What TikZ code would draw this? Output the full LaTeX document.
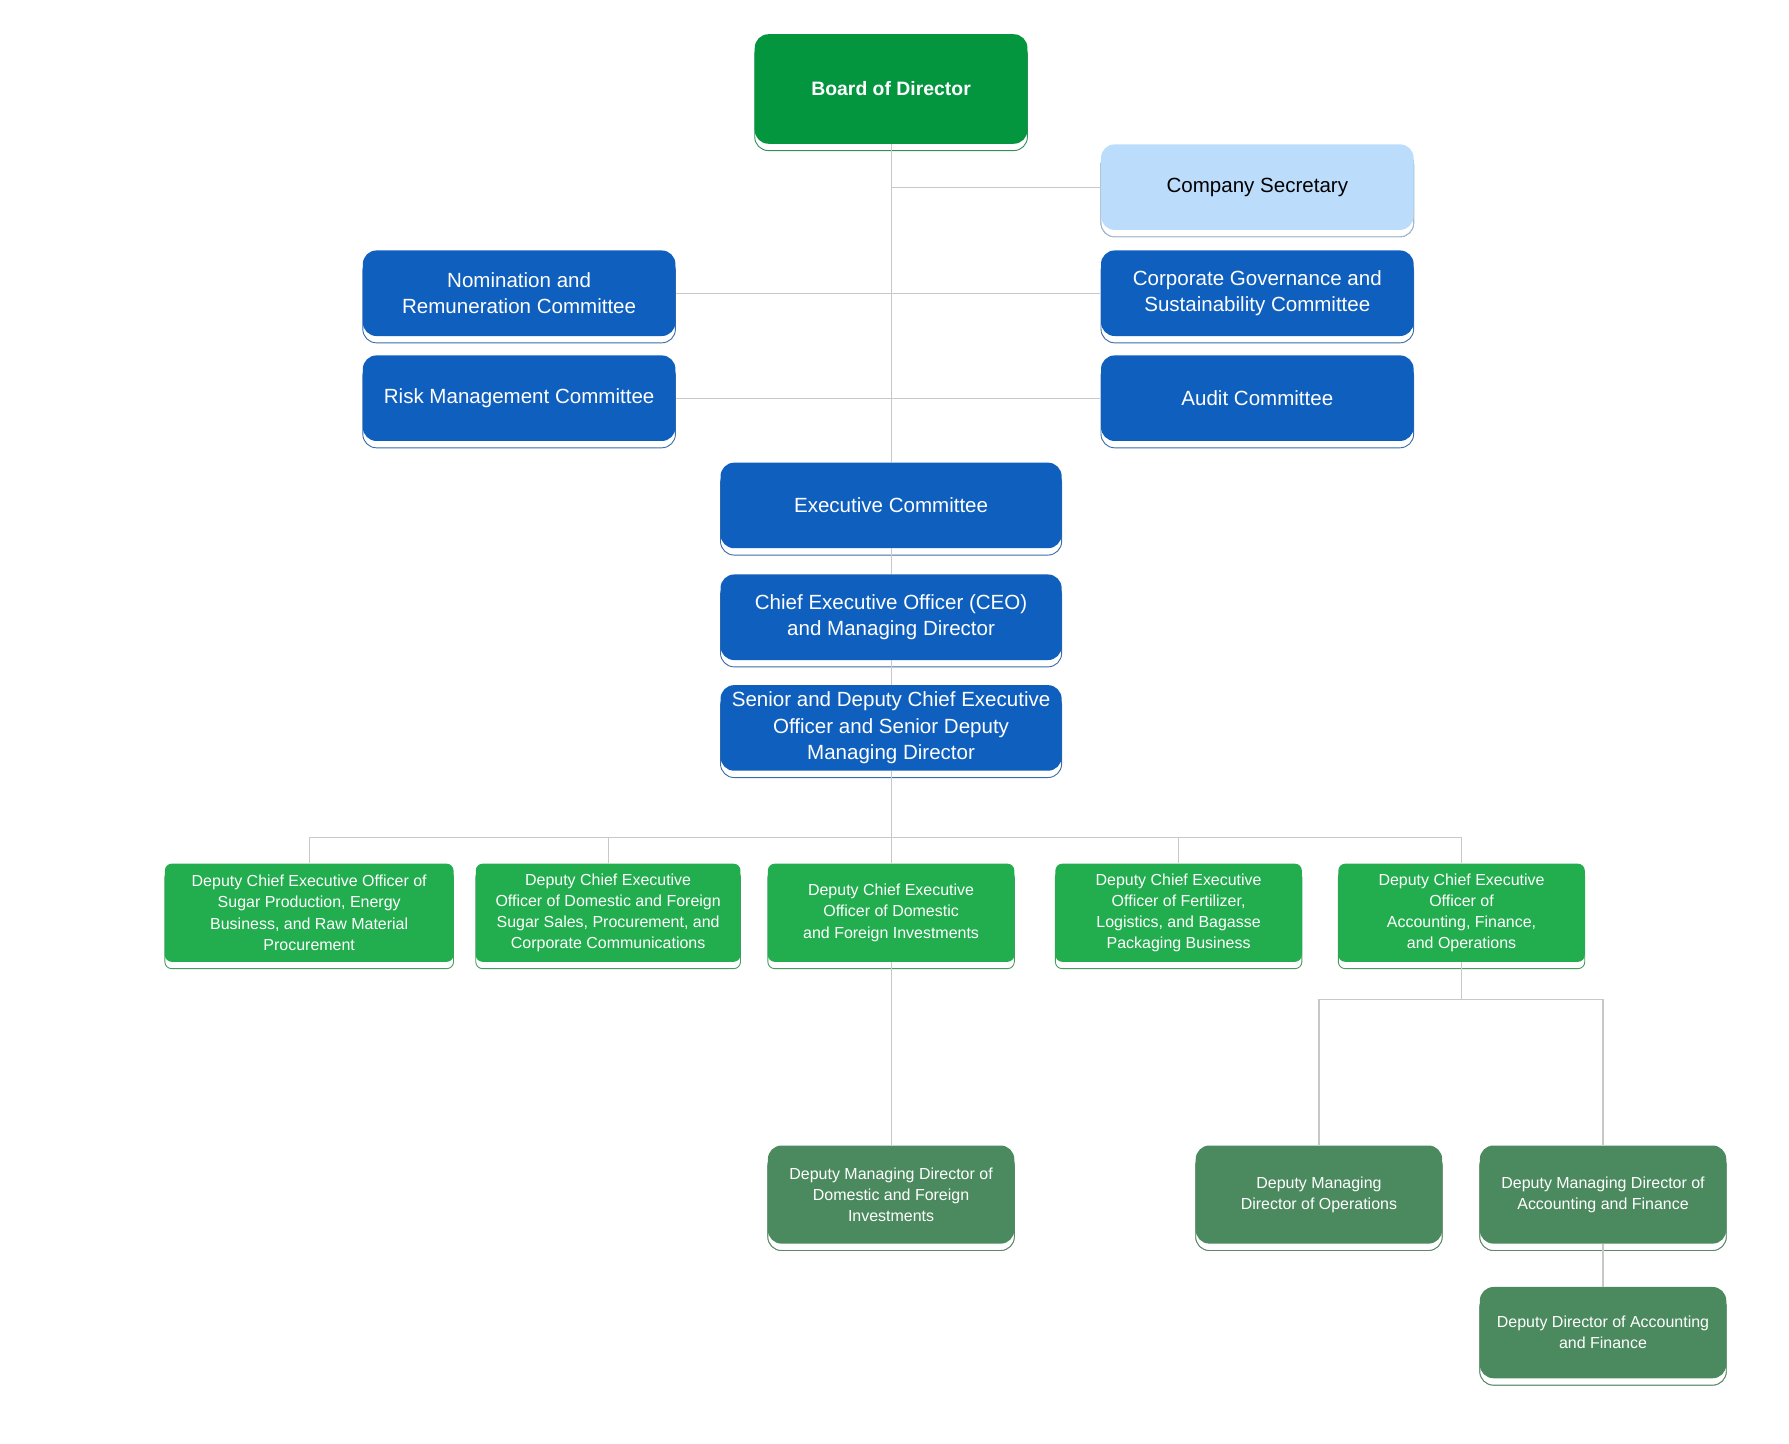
\documentclass[tikz,border=0pt]{standalone}
\usepackage{fontspec}
\setmainfont{Liberation Sans}
\definecolor{boardgreen}{HTML}{03963F}
\definecolor{comblue}{HTML}{0F5FBE}
\definecolor{secblue}{HTML}{BBDDFB}
\definecolor{depgreen}{HTML}{22AE4E}
\definecolor{mdgreen}{HTML}{4B8A5E}
\definecolor{linkgray}{HTML}{C8C8C8}
\tikzset{
  box/.style={rounded corners=12pt, align=center, inner sep=0pt,
    preaction={draw=#1!60!gray, fill=white, line width=0.8pt, transform canvas={yshift=-6pt}}},
  board/.style={box=boardgreen, fill=boardgreen, text=white, font=\fontsize{17}{21}\selectfont\bfseries,
    minimum width=239pt, minimum height=96pt},
  committee/.style={box=comblue, fill=comblue, text=white, font=\fontsize{18}{23}\selectfont,
    minimum width=274pt, minimum height=75pt},
  secretary/.style={committee, box=secblue, fill=secblue, text=black},
  exec/.style={committee, minimum width=299pt},
  deputy/.style={box=depgreen, fill=depgreen, text=white, font=\fontsize{14}{18.5}\selectfont,
    minimum width=216pt, minimum height=86pt, rounded corners=6pt},
  mdir/.style={deputy, box=mdgreen, fill=mdgreen},
  link/.style={draw=linkgray, line width=1pt}
}
\begin{document}
\begin{tikzpicture}[x=1pt,y=-1pt]
  \useasboundingbox (0,0) rectangle (1568,1265);

  % lines first
  \coordinate (top) at (781,126);
  \coordinate (bus) at (781,734);
  \coordinate (busL) at (271,734);
  \coordinate (busR) at (1281,734);
  \coordinate (sec) at (781,164);
  \coordinate (gov) at (781,255);
  \coordinate (aud) at (781,349);
  \coordinate (fin) at (1281,876);
  \coordinate (finL) at (1156,876);
  \coordinate (finR) at (1405,876);

  \node[board] (B) at (781,78) {Board of Director};
  \node[secretary] (CS) at (1102,164) {Company Secretary};
  \node[committee] (NR) at (455,257) {Nomination and\\Remuneration Committee};
  \node[committee] (CG) at (1102,257) {Corporate Governance and\\Sustainability Committee};
  \node[committee] (RM) at (455,349) {Risk Management Committee};
  \node[committee] (AC) at (1102,349) {Audit Committee};
  \node[exec] (EC) at (781,443) {Executive Committee};
  \node[exec] (CEO) at (781,541) {Chief Executive Officer (CEO)\\and Managing Director};
  \node[exec] (SD) at (781,638) {Senior and Deputy Chief Executive\\Officer and Senior Deputy\\Managing Director};

  \node[deputy, minimum width=253pt] (D1) at (271,800) {Deputy Chief Executive Officer of\\Sugar Production, Energy\\Business, and Raw Material\\Procurement};
  \node[deputy, minimum width=232pt] (D2) at (533,800) {Deputy Chief Executive\\Officer of Domestic and Foreign\\Sugar Sales, Procurement, and\\Corporate Communications};
  \node[deputy] (D3) at (781,800) {Deputy Chief Executive\\Officer of Domestic\\and Foreign Investments};
  \node[deputy] (D4) at (1033,800) {Deputy Chief Executive\\Officer of Fertilizer,\\Logistics, and Bagasse\\Packaging Business};
  \node[deputy] (D5) at (1281,800) {Deputy Chief Executive\\Officer of\\Accounting, Finance,\\and Operations};

  \node[mdir] (M1) at (781,1047) {Deputy Managing Director of\\Domestic and Foreign\\Investments};
  \node[mdir] (M2) at (1156,1047) {Deputy Managing\\Director of Operations};
  \node[mdir] (M3) at (1405,1047) {Deputy Managing Director of\\Accounting and Finance};
  \node[mdir, minimum height=80pt] (M4) at (1405,1168) {Deputy Director of Accounting\\and Finance};

  \begin{scope}[on background layer/.try]
  \end{scope}
  \draw[link] (B) -- (EC);
  \draw[link] (sec) -- (CS);
  \draw[link] (NR) -- (CG);
  \draw[link] (RM) -- (AC);
  \draw[link] (EC) -- (CEO);
  \draw[link] (CEO) -- (SD);
  \draw[link] (SD) -- (bus);
  \draw[link] (busL) -- (busR);
  \draw[link] (busL) -- (D1);
  \draw[link] (D2.north |- bus) -- (D2);
  \draw[link] (bus) -- (D3);
  \draw[link] (D4.north |- bus) -- (D4);
  \draw[link] (busR) -- (D5);
  \draw[link] (D3) -- (M1);
  \draw[link] (D5) -- (fin);
  \draw[link] (finL) -- (finR);
  \draw[link] (finL) -- (M2);
  \draw[link] (finR) -- (M3);
  \draw[link] (M3) -- (M4);
\end{tikzpicture}
\end{document}
